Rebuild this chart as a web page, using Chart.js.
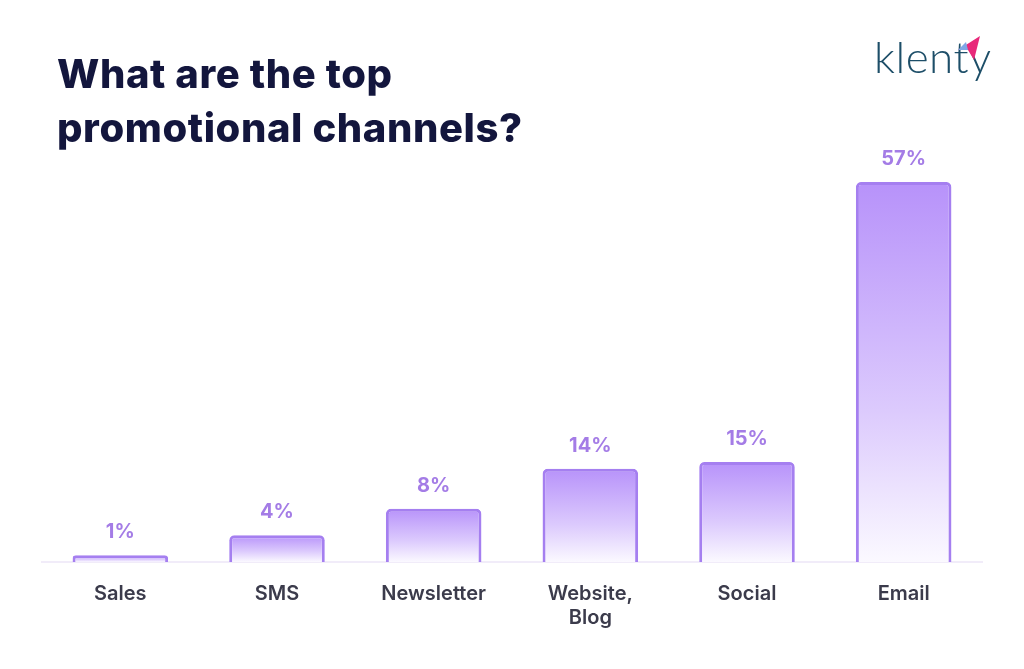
<!DOCTYPE html>
<html><head><meta charset="utf-8">
<script src="https://cdn.jsdelivr.net/npm/chart.js@4"></script>
<style>
html,body{margin:0;padding:0;background:#fff;width:1024px;height:669px;overflow:hidden;font-family:Inter,"Noto Sans",sans-serif}
#t{position:absolute;left:57px;top:47px;font-size:40px;font-weight:800;color:#13163d;line-height:54px;letter-spacing:0.6px}
#logo{position:absolute;left:874px;top:30px;font-family:Lato,"Open Sans",sans-serif;font-weight:300;font-size:44px;color:#1d4e68;letter-spacing:0.5px}
#wrap{position:absolute;left:0;top:0;width:1024px;height:669px}
</style></head><body>
<div id="wrap"><canvas id="c"></canvas></div>
<div id="t">What are the top<br>promotional channels?</div>
<div id="logo">klenty<svg style="position:absolute;left:82px;top:4px" width="26" height="28"><polygon points="24,2 2,16 12,16 18,26" fill="#e8297a"/><polygon points="2,16 12,16 10,8" fill="#7fa6e6"/></svg></div>
<script>
const categories=["Sales","SMS","Newsletter",["Website,","Blog"],"Social","Email"];
const values=[1,4,8,14,15,57];
const valueLabels=["1%","4%","8%","14%","15%","57%"];
const labelPlugin={id:'lbl',afterDatasetsDraw(ch){const ctx=ch.ctx;const m=ch.getDatasetMeta(0);ctx.save();ctx.font='700 20px Inter, sans-serif';ctx.fillStyle='#a47ce6';ctx.textAlign='center';ctx.textBaseline='bottom';m.data.forEach((b,i)=>ctx.fillText(valueLabels[i],b.x,b.y-13));ctx.restore();}};
new Chart(document.getElementById('c'),{type:'bar',
data:{labels:categories,datasets:[{data:values,
backgroundColor(c){const a=c.chart.chartArea;if(!a||c.type!=='data')return '#c9a9fb';const top=c.chart.scales.y.getPixelForValue(c.raw);const g=c.chart.ctx.createLinearGradient(0,top,0,a.bottom);g.addColorStop(0,'#b792fa');g.addColorStop(0.6,'#dccafd');g.addColorStop(1,'#fbf9ff');return g;},
borderColor:'#a57ff0',borderWidth:{top:3,left:3,right:3,bottom:0},borderRadius:{topLeft:5,topRight:5},borderSkipped:'bottom',
categoryPercentage:1,barPercentage:0.61}]},
options:{responsive:true,maintainAspectRatio:false,animation:false,
layout:{padding:{left:42,right:42,top:182,bottom:27}},
plugins:{legend:{display:false},tooltip:{enabled:false}},
scales:{x:{grid:{display:false},border:{display:true,color:'#f1ecf9',width:2},ticks:{color:'#3b3b4b',font:{family:'Inter',size:20,weight:'600'},padding:12}},
y:{display:false,min:0,max:57}}},
plugins:[labelPlugin]});
</script></body></html>
